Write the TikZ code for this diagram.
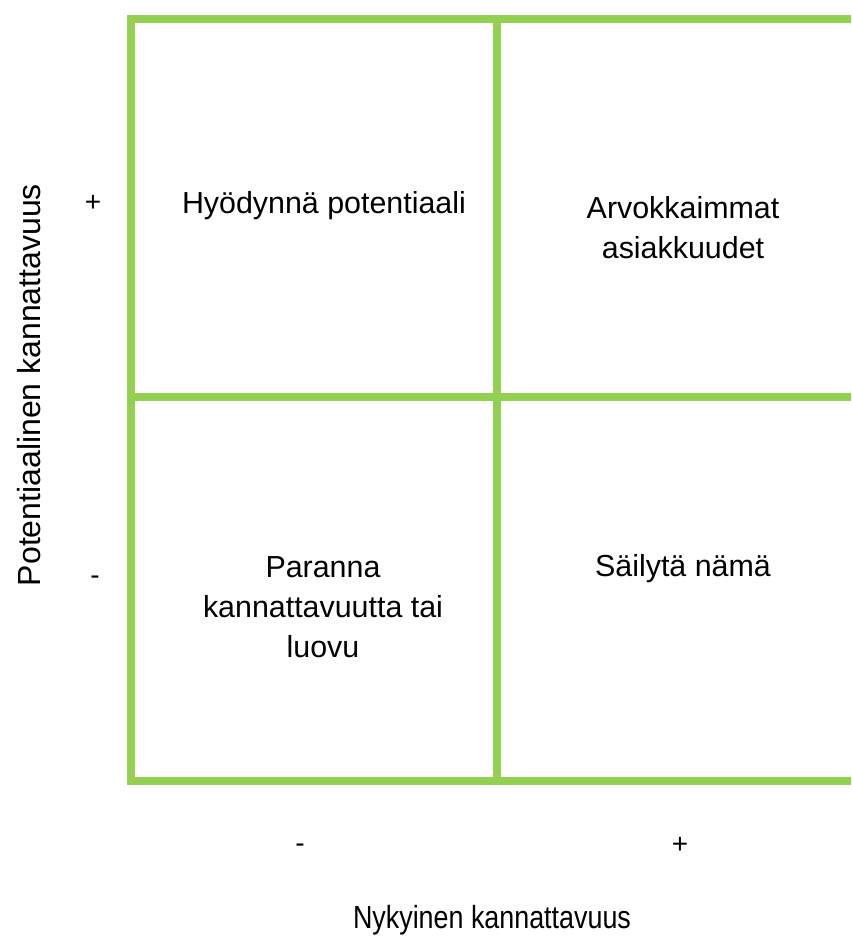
\documentclass[tikz,border=0pt]{standalone}
\usepackage{fontspec}
\setmainfont{Liberation Sans}
\definecolor{gridgreen}{HTML}{92D050}

\tikzset{
  gridline/.style={draw=gridgreen, line width=3.6pt},
  celltext/.style={align=center, font=\fontsize{15.2}{20}\selectfont},
  signtext/.style={font=\fontsize{14}{20}\selectfont},
  axistext/.style={font=\fontsize{16}{20}\selectfont}
}

\begin{document}
\begin{tikzpicture}[x=0.5pt,y=-0.5pt]
      \useasboundingbox (0,0) rectangle (851,940);
      % grid
      \draw[gridline] (851,19) -| (131,781) -- (851,781);
      \draw[gridline] (131,397) -- (851,397);
      \draw[gridline] (497,19) -- (497,781);
      % cells
      \node[celltext] (hyodynna) at (324,206) {Hyödynnä potentiaali};
      \node[celltext] (arvokkaimmat) at (683,228) {Arvokkaimmat\\asiakkuudet};
      \node[celltext] (paranna) at (323,607) {Paranna\\kannattavuutta tai\\luovu};
      \node[celltext] (sailyta) at (683,569) {Säilytä nämä};
      % axes
      \node[signtext] (yplus) at (93,203) {+};
      \node[signtext] (yminus) at (95,580) {-};
      \node[signtext] (xminus) at (300,848) {-};
      \node[signtext] (xplus) at (680,845) {+};
      \node[axistext, rotate=90] (ylabel) at (29,385) {Potentiaalinen kannattavuus};
      \node[axistext] (xlabel) at (492,920) {\scalebox{0.84}[1]{Nykyinen kannattavuus}};
    \end{tikzpicture}
\end{document}
